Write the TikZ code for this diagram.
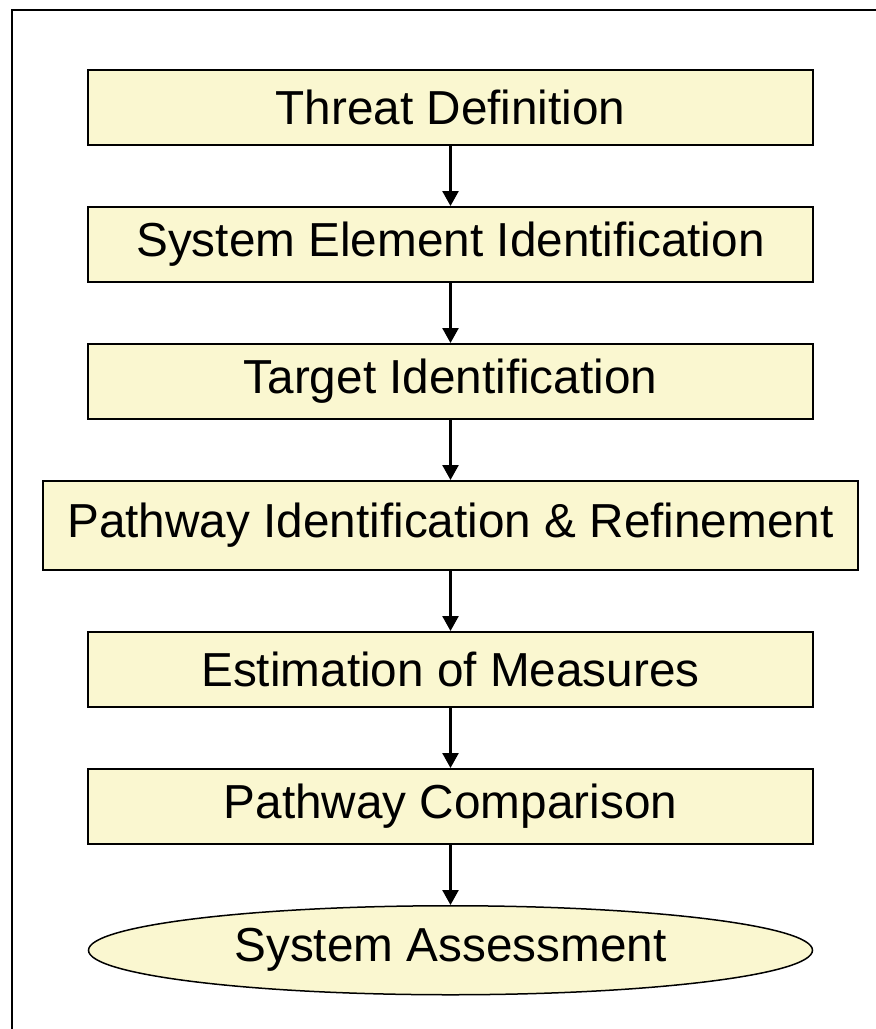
\documentclass[tikz,border=0pt]{standalone}
\usepackage{fontspec}
\setmainfont{Liberation Sans}
\usepackage{tikz}
\usetikzlibrary{shapes.geometric,arrows.meta,positioning}

\definecolor{paleyellow}{RGB}{250,247,208}

\begin{document}
\begin{tikzpicture}[
    x=1pt, y=-1pt,
    node distance=60pt,
    stage/.style={rectangle, draw=black, line width=2pt, fill=paleyellow,
        minimum width=725pt, minimum height=75pt, inner sep=0pt,
        font=\fontsize{47.7}{57}\selectfont},
    final/.style={ellipse, draw=black, line width=1.5pt, fill=paleyellow,
        minimum width=724pt, minimum height=89pt, inner sep=0pt,
        font=\fontsize{47.7}{57}\selectfont},
    >={Triangle[width=16pt,length=15pt]}
]
\useasboundingbox (0,0) rectangle (876,1029);

% frame
\draw[line width=2pt] (12,1029) -- (12,10) -- (876,10);

\node[stage] (threat) at (450.5,107.5) {Threat Definition};
\node[stage, below=of threat] (element) {System Element Identification};
\node[stage, below=of element] (target) {Target Identification};
\node[stage, below=of target, minimum width=815pt, minimum height=89pt] (pathway) {Pathway Identification \& Refinement};
\node[stage, below=of pathway] (measures) {Estimation of Measures};
\node[stage, below=of measures] (comparison) {Pathway Comparison};
\node[final, below=of comparison] (assessment) {System Assessment};

% Steps
\draw[->, line width=2.5pt] (threat) -- (element);
\draw[->, line width=2.5pt] (element) -- (target);
\draw[->, line width=2.5pt] (target) -- (pathway);
\draw[->, line width=2.5pt] (pathway) -- (measures);
\draw[->, line width=2.5pt] (measures) -- (comparison);
\draw[->, line width=2.5pt] (comparison) -- (assessment);

\end{tikzpicture}
\end{document}
